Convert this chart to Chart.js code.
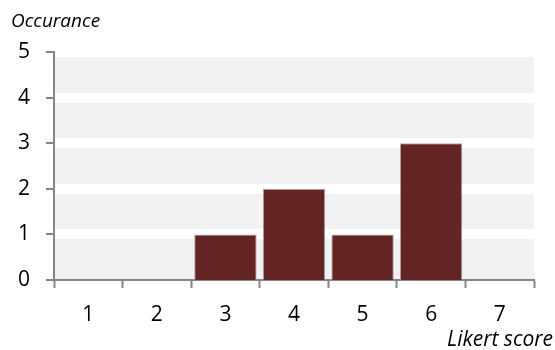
<!DOCTYPE html>
<html>
<head>
<meta charset="utf-8">
<script src="https://cdn.jsdelivr.net/npm/chart.js@4"></script>
<style>
  body { margin: 0; background: #fff; }
</style>
</head>
<body>
<canvas id="myChart" width="555" height="350"></canvas>
<script>
let puntajes = ["1", "2", "3", "4", "5", "6", "7"];
let ocurrencias = [0, 0, 1, 2, 1, 3, 0];
let ticksY = [0, 1, 2, 3, 4, 5];
let colorBarra = '#632423';
let tituloY = "Occurance";
let tituloX = "Likert score";

let gris = '#868686';

// fondo gris del area y titulos en cursiva
let fondo = {
    id: 'fondo',
    beforeDraw(chart) {
        let a = chart.chartArea;
        let ctx = chart.ctx;
        ctx.save();
        ctx.fillStyle = '#f2f2f2';
        ctx.fillRect(a.left, a.top, a.right - a.left, a.bottom - a.top);
        ctx.restore();
    },
    afterDraw(chart) {
        let ctx = chart.ctx;
        ctx.save();
        ctx.fillStyle = '#000';
        ctx.textBaseline = 'alphabetic';
        ctx.font = 'italic 19px "Open Sans"';
        ctx.textAlign = 'left';
        ctx.fillText(tituloY, 11, 27);
        ctx.font = 'italic 21px "Open Sans"';
        ctx.textAlign = 'right';
        ctx.fillText(tituloX, 553, 346);
        ctx.restore();
    }
};

let myChart = document.getElementById("myChart").getContext('2d');

let chart1 = new Chart(myChart, {
    type: 'bar',
    data: {
        labels: puntajes,
        datasets: [{
            data: ocurrencias,
            backgroundColor: colorBarra,
            borderColor: 'rgba(150,150,150,0.8)',
            borderWidth: 1,
            barPercentage: 0.91,
            categoryPercentage: 1
        }]
    },
    options: {
        responsive: false,
        animation: false,
        layout: { padding: { top: 52, right: 21, left: 0, bottom: 0 } },
        plugins: {
            legend: { display: false },
            tooltip: { enabled: false }
        },
        scales: {
            x: {
                afterFit: (s) => { s.height = 70; },
                grid: {
                    offset: true,
                    drawOnChartArea: false,
                    tickLength: 8,
                    tickColor: gris,
                    tickWidth: 2
                },
                border: { color: gris, width: 2 },
                ticks: {
                    color: '#000',
                    padding: 14,
                    font: { family: '"Open Sans"', size: 21 }
                }
            },
            y: {
                min: 0,
                max: 5,
                afterFit: (s) => { s.width = 54; },
                afterBuildTicks: (s) => { s.ticks = ticksY.map(v => ({ value: v })); },
                grid: {
                    color: '#ffffff',
                    lineWidth: (c) => c.tick && c.tick.value === 0 ? 0 : 10,
                    tickLength: 8,
                    tickColor: gris,
                    tickWidth: 2
                },
                border: { color: gris, width: 2 },
                ticks: {
                    color: '#000',
                    padding: 16,
                    font: { family: '"Open Sans"', size: 21 }
                }
            }
        }
    },
    plugins: [fondo]
});
</script>
</body>
</html>
